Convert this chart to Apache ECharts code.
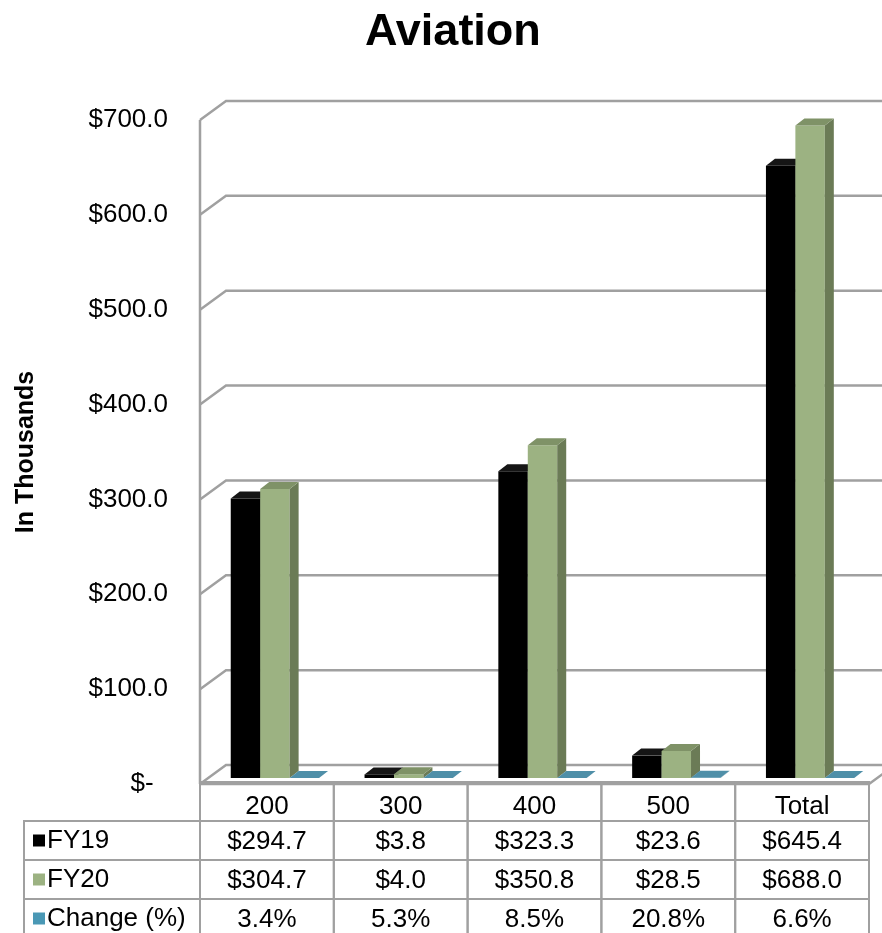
<!DOCTYPE html>
<html>
<head>
<meta charset="utf-8">
<title>Aviation</title>
<script src="https://cdn.jsdelivr.net/npm/echarts@6/dist/echarts.min.js"></script>
<style>
  html, body { margin: 0; padding: 0; background: #fff; }
  #chart { width: 882px; height: 933px; }
</style>
</head>
<body>
<div id="chart"></div>
<script>
const categories = ['200', '300', '400', '500', 'Total'];
const fy19 = [294.7, 3.8, 323.3, 23.6, 645.4];
const fy20 = [304.7, 4.0, 350.8, 28.5, 688.0];
const changePct = [3.4, 5.3, 8.5, 20.8, 6.6];
const yTicks = [0, 100, 200, 300, 400, 500, 600, 700];
const rowNames = ['', 'FY19', 'FY20', 'Change (%)'];

const FONT = '"Liberation Sans", Arial, sans-serif';
const LINE = '#a0a0a0';
const DEPTH = [-26, 19];      // back wall -> front edge of floor
const BAR_SHIFT = [-18, 13];  // back wall -> front face of bars
const BAR_DEPTH = [9, -7];    // thickness of a bar
const LABEL_COL = 176;        // row-name column of the table

const pal = {
  fy19: { front: '#000000', top: '#151515', side: '#000000', key: '#000000' },
  fy20: { front: '#9cb282', top: '#7f9267', side: '#6b7b56', key: '#9cb282' },
  chg:  { front: '#4f8fa8', top: '#4f8fa8', side: '#3d7186', key: '#4a98b5' }
};

const chart = echarts.init(document.getElementById('chart'));

function bar3d(slot, c) {
  return function (params, api) {
    const i = api.value(0);
    const base = api.coord([i, 0]);
    const top = api.coord([i, api.value(1)]);
    const w = api.size([1, 0])[0] * 0.22;
    const x0 = base[0] + BAR_SHIFT[0] + (slot - 1.5) * w;
    const x1 = x0 + w;
    const yb = base[1] + BAR_SHIFT[1];
    const yt = top[1] + BAR_SHIFT[1];
    const dx = BAR_DEPTH[0], dy = BAR_DEPTH[1];
    return {
      type: 'group',
      children: [
        { type: 'polygon', shape: { points: [[x0, yb], [x1, yb], [x1, yt], [x0, yt]] }, style: { fill: c.front } },
        { type: 'polygon', shape: { points: [[x1, yb], [x1 + dx, yb + dy], [x1 + dx, yt + dy], [x1, yt]] }, style: { fill: c.side } },
        { type: 'polygon', shape: { points: [[x0, yt], [x1, yt], [x1 + dx, yt + dy], [x0 + dx, yt + dy]] }, style: { fill: c.top } }
      ]
    };
  };
}

// walls, gridlines and floor
function frameItem(params, api) {
  const v = api.value(1);
  const p = api.coord([0, v]);
  const band = api.size([1, 0])[0];
  const left = p[0] - band / 2;
  const right = left + band * categories.length;
  const y = p[1];
  const st = { stroke: LINE, lineWidth: 2.5, fill: null };
  const kids = [
    { type: 'polyline', shape: { points: [[left + DEPTH[0], y + DEPTH[1]], [left, y], [right, y]] }, style: st }
  ];
  if (v === 0) {
    kids.push({ type: 'polyline', shape: { points: [[left + DEPTH[0], y + DEPTH[1]], [right + DEPTH[0], y + DEPTH[1]], [right, y]] }, style: st });
  }
  if (v === yTicks[yTicks.length - 1]) {
    const y0 = api.coord([0, 0])[1];
    kids.push({ type: 'line', shape: { x1: left + DEPTH[0], y1: y + DEPTH[1], x2: left + DEPTH[0], y2: y0 + DEPTH[1] }, style: st });
  }
  return { type: 'group', children: kids };
}

const cells = [];
categories.forEach((c, i) => {
  cells.push({ col: i, row: 0, text: c });
  cells.push({ col: i, row: 1, text: '$' + fy19[i].toFixed(1) });
  cells.push({ col: i, row: 2, text: '$' + fy20[i].toFixed(1) });
  cells.push({ col: i, row: 3, text: changePct[i].toFixed(1) + '%' });
});

function cellItem(params, api) {
  const cell = cells[params.dataIndex];
  const c = api.coord([api.value(0), api.value(1)]);
  const sz = api.size([1, 1]);
  const x = c[0] - sz[0] / 2, y = c[1] - sz[1] / 2;
  const st = { stroke: LINE, lineWidth: 2, fill: null };
  const kids = [
    { type: 'rect', shape: { x: x, y: y, width: sz[0], height: sz[1] }, style: st },
    { type: 'text', x: c[0], y: c[1] + (cell.row === 0 ? 5 : 1),
      style: { text: cell.text, fill: '#000', font: '26px ' + FONT, align: 'center', verticalAlign: 'middle' } }
  ];
  if (cell.col === 0 && cell.row > 0) {
    kids.push({ type: 'rect', shape: { x: x - LABEL_COL, y: y, width: LABEL_COL, height: sz[1] }, style: st });
  }
  return { type: 'group', children: kids };
}

const keyBox = (color) => ({ width: 12, height: 12, backgroundColor: color });

chart.setOption({
  animation: false,
  title: {
    text: 'Aviation', left: 360, top: 5,
    textStyle: { fontSize: 45, fontWeight: 'bold', fontFamily: FONT, color: '#000' }
  },
  grid: [
    { left: 226, top: 101, width: 669, height: 664, outerBoundsMode: 'none' },   // back wall
    { left: 200, top: 782, width: 669, height: 156, outerBoundsMode: 'none' },   // data table
    { left: 200, top: 120, width: 669, height: 664, outerBoundsMode: 'none' }    // front edge, value labels
  ],
  xAxis: [
    { gridIndex: 0, type: 'category', data: categories, show: false },
    { gridIndex: 1, type: 'category', data: categories, show: false },
    { gridIndex: 2, type: 'category', data: categories, show: false }
  ],
  yAxis: [
    { gridIndex: 0, type: 'value', min: 0, max: 700, interval: 100, show: false },
    {
      gridIndex: 1, type: 'category', data: rowNames, inverse: true,
      axisLine: { show: false }, axisTick: { show: false }, splitLine: { show: false },
      axisLabel: {
        align: 'left', margin: 167,
        formatter: (val, idx) => idx === 0 ? '' : '{k' + idx + '|}{t|' + val + '}',
        rich: {
          k1: keyBox(pal.fy19.key), k2: keyBox(pal.fy20.key), k3: keyBox(pal.chg.key),
          t: { fontSize: 26, fontFamily: FONT, color: '#000', padding: [0, 0, 0, 2] }
        }
      }
    },
    {
      gridIndex: 2, type: 'value', min: 0, max: 700, interval: 100,
      axisLine: { show: false }, axisTick: { show: false }, splitLine: { show: false },
      axisLabel: {
        margin: 32, fontSize: 26, fontFamily: FONT, color: '#000',
        formatter: v => v === 0 ? '$-  ' : '$' + v.toFixed(1)
      },
      name: 'In Thousands', nameLocation: 'middle', nameRotate: 90, nameGap: 161,
      nameTextStyle: { fontSize: 25, fontWeight: 'bold', fontFamily: FONT, color: '#000' }
    }
  ],
  series: [
    { type: 'custom', name: 'frame', xAxisIndex: 0, yAxisIndex: 0, z: 1,
      data: yTicks.map(v => [0, v]), renderItem: frameItem },
    { type: 'custom', name: 'FY19', xAxisIndex: 0, yAxisIndex: 0, z: 2,
      data: fy19.map((v, i) => [i, v]), renderItem: bar3d(0, pal.fy19) },
    { type: 'custom', name: 'FY20', xAxisIndex: 0, yAxisIndex: 0, z: 3,
      data: fy20.map((v, i) => [i, v]), renderItem: bar3d(1, pal.fy20) },
    { type: 'custom', name: 'Change (%)', xAxisIndex: 0, yAxisIndex: 0, z: 4,
      data: changePct.map((v, i) => [i, v / 100]), renderItem: bar3d(2, pal.chg) },
    { type: 'custom', name: 'table', xAxisIndex: 1, yAxisIndex: 1, z: 5,
      data: cells.map(c => [c.col, c.row]), renderItem: cellItem }
  ]
});
</script>
</body>
</html>
